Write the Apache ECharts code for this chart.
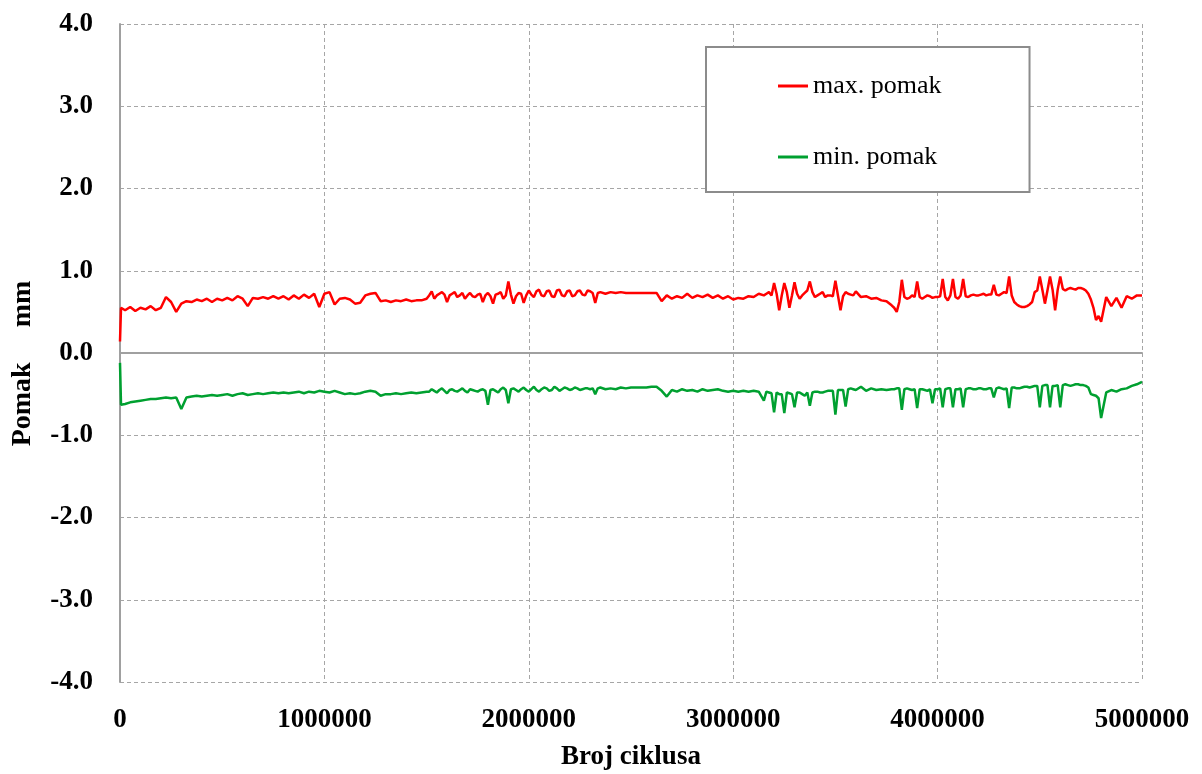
<!DOCTYPE html>
<html>
<head>
<meta charset="utf-8">
<script src="https://cdn.jsdelivr.net/npm/echarts@6/dist/echarts.min.js"></script>
<style>html,body{margin:0;padding:0;background:#fff;}#c{width:1202px;height:774px;}</style>
</head>
<body>
<div id="c"></div>
<script>
// main samples (every 25 000 cycles)
const cycles = [0, 5000,
  25000,50000,75000,100000,125000,150000,175000,200000,225000,250000,
  275000,300000,325000,350000,375000,400000,425000,450000,475000,500000,
  525000,550000,575000,600000,625000,650000,675000,700000,725000,750000,
  775000,800000,825000,850000,875000,900000,925000,950000,975000,1000000,
  1025000,1050000,1075000,1100000,1125000,1150000,1175000,1200000,1225000,1250000,
  1275000,1300000,1325000,1350000,1375000,1400000,1425000,1450000,1475000,1500000,
  1525000,1550000,1575000,1600000,1625000,1650000,1675000,1700000,1725000,1750000,
  1775000,1800000,1825000,1850000,1875000,1900000,1925000,1950000,1975000,2000000,
  2025000,2050000,2075000,2100000,2125000,2150000,2175000,2200000,2225000,2250000,
  2275000,2300000,2325000,2350000,2375000,2400000,2425000,2450000,2475000,2500000,
  2525000,2550000,2575000,2600000,2625000,2650000,2675000,2700000,2725000,2750000,
  2775000,2800000,2825000,2850000,2875000,2900000,2925000,2950000,2975000,3000000,
  3025000,3050000,3075000,3100000,3125000,3150000,3175000,3200000,3225000,3250000,
  3275000,3300000,3325000,3350000,3375000,3400000,3425000,3450000,3475000,3500000,
  3525000,3550000,3575000,3600000,3625000,3650000,3675000,3700000,3725000,3750000,
  3775000,3800000,3825000,3850000,3875000,3900000,3925000,3950000,3975000,4000000,
  4025000,4050000,4075000,4100000,4125000,4150000,4175000,4200000,4225000,4250000,
  4275000,4300000,4325000,4350000,4375000,4400000,4425000,4450000,4475000,4500000,
  4525000,4550000,4575000,4600000,4625000,4650000,4675000,4700000,4725000,4750000,
  4775000,4800000,4825000,4850000,4875000,4900000,4925000,4950000,4975000,5000000
];

const maxPomak = [0.14, 0.55,
  0.52,0.56,0.51,0.55,0.53,0.57,0.52,0.55,0.68,0.62,
  0.50,0.60,0.63,0.62,0.65,0.63,0.66,0.62,0.66,0.64,
  0.67,0.64,0.69,0.66,0.57,0.67,0.66,0.68,0.66,0.69,
  0.66,0.69,0.65,0.70,0.66,0.71,0.67,0.72,0.56,0.72,
  0.74,0.59,0.66,0.67,0.65,0.60,0.61,0.70,0.72,0.73,
  0.63,0.64,0.62,0.64,0.63,0.65,0.63,0.64,0.64,0.66,
  0.75,0.70,0.74,0.62,0.72,0.68,0.73,0.70,0.69,0.71,
  0.62,0.73,0.60,0.72,0.66,0.87,0.60,0.73,0.61,0.76,
  0.68,0.77,0.69,0.76,0.68,0.77,0.69,0.76,0.70,0.76,
  0.70,0.75,0.61,0.74,0.72,0.74,0.73,0.74,0.73,0.73,
  0.73,0.73,0.73,0.73,0.73,0.63,0.70,0.66,0.69,0.67,
  0.72,0.67,0.70,0.68,0.71,0.67,0.70,0.66,0.69,0.65,
  0.67,0.66,0.69,0.68,0.72,0.70,0.74,0.85,0.52,0.85,
  0.55,0.86,0.66,0.73,0.87,0.68,0.72,0.68,0.70,0.88,
  0.52,0.74,0.71,0.75,0.68,0.69,0.66,0.67,0.64,0.63,
  0.58,0.50,0.89,0.66,0.70,0.87,0.66,0.70,0.67,0.68,
  0.90,0.64,0.90,0.66,0.90,0.68,0.71,0.70,0.72,0.71,
  0.83,0.70,0.74,0.93,0.62,0.57,0.56,0.59,0.74,0.93,
  0.60,0.93,0.52,0.93,0.76,0.79,0.77,0.79,0.76,0.65,
  0.40,0.38,0.68,0.57,0.67,0.55,0.69,0.66,0.70,0.70
];

const minPomak = [-0.12, -0.63,
  -0.62,-0.60,-0.59,-0.58,-0.57,-0.56,-0.56,-0.55,-0.54,-0.55,
  -0.54,-0.68,-0.54,-0.53,-0.52,-0.53,-0.52,-0.51,-0.52,-0.51,
  -0.50,-0.52,-0.50,-0.49,-0.51,-0.50,-0.49,-0.50,-0.49,-0.48,
  -0.49,-0.48,-0.49,-0.48,-0.47,-0.49,-0.47,-0.48,-0.46,-0.47,
  -0.48,-0.46,-0.48,-0.50,-0.49,-0.50,-0.49,-0.47,-0.46,-0.47,
  -0.52,-0.50,-0.50,-0.49,-0.50,-0.49,-0.48,-0.49,-0.48,-0.47,
  -0.44,-0.48,-0.43,-0.49,-0.44,-0.47,-0.43,-0.48,-0.45,-0.47,
  -0.44,-0.63,-0.44,-0.48,-0.42,-0.61,-0.43,-0.47,-0.42,-0.47,
  -0.41,-0.47,-0.42,-0.46,-0.41,-0.46,-0.42,-0.45,-0.42,-0.45,
  -0.43,-0.44,-0.50,-0.42,-0.44,-0.43,-0.44,-0.42,-0.43,-0.42,
  -0.42,-0.42,-0.42,-0.41,-0.41,-0.46,-0.53,-0.45,-0.47,-0.44,
  -0.46,-0.45,-0.47,-0.44,-0.46,-0.45,-0.44,-0.46,-0.47,-0.46,
  -0.47,-0.46,-0.47,-0.46,-0.47,-0.58,-0.48,-0.72,-0.50,-0.73,
  -0.49,-0.66,-0.48,-0.52,-0.64,-0.47,-0.48,-0.47,-0.46,-0.75,
  -0.45,-0.65,-0.43,-0.45,-0.41,-0.46,-0.43,-0.45,-0.44,-0.45,
  -0.44,-0.43,-0.69,-0.43,-0.45,-0.67,-0.44,-0.46,-0.61,-0.44,
  -0.66,-0.43,-0.66,-0.44,-0.66,-0.43,-0.44,-0.43,-0.44,-0.43,
  -0.54,-0.42,-0.44,-0.67,-0.42,-0.43,-0.41,-0.42,-0.40,-0.66,
  -0.39,-0.66,-0.40,-0.66,-0.38,-0.40,-0.38,-0.39,-0.40,-0.50,
  -0.52,-0.79,-0.48,-0.45,-0.47,-0.44,-0.43,-0.40,-0.38,-0.35
];

// extra samples read in the noisy stretches (half-way between main samples)
const midCycles = [
  1512500,1537500,1562500,1587500,1612500,1637500,1662500,1687500,1712500,1737500,
  1762500,1787500,1812500,1837500,1862500,1887500,1912500,1937500,1962500,1987500,
  2012500,2037500,2062500,2087500,2112500,2137500,2162500,2187500,2212500,2237500,
  2262500,2287500,2312500,2337500,
  3162500,3187500,3212500,3237500,3262500,3287500,3312500,3337500,3362500,3387500,
  3412500,3437500,3462500,3487500,3512500,3537500,3562500,3587500,
  3787500,3812500,3837500,3862500,3887500,3912500,3937500,3962500,3987500,4012500,
  4037500,4062500,4087500,4112500,4137500,4162500,4187500,4212500,4237500,4262500,
  4287500,4312500,4337500,4362500,4387500,4412500,4437500,4462500,4487500,4512500,
  4537500,4562500,4587500,4612500,4637500,4662500,4687500,4712500,4737500,4762500,
  4787500
];
const maxPomakMid = [
  0.70,0.66,0.72,0.71,0.70,0.74,0.70,0.66,0.73,0.68,
  0.72,0.70,0.69,0.71,0.74,0.70,0.71,0.69,0.72,0.70,
  0.71,0.75,0.70,0.75,0.69,0.76,0.70,0.75,0.69,0.75,
  0.71,0.76,0.73,0.73,
  0.72,0.70,0.72,0.70,0.74,0.70,0.72,0.70,0.76,0.74,
  0.70,0.74,0.70,0.69,0.70,0.69,0.72,0.70,
  0.55,0.62,0.68,0.67,0.68,0.68,0.68,0.69,0.68,0.69,
  0.68,0.70,0.68,0.70,0.69,0.70,0.70,0.71,0.70,0.71,
  0.71,0.72,0.73,0.70,0.59,0.56,0.57,0.62,0.76,0.77,
  0.76,0.77,0.77,0.78,0.78,0.78,0.79,0.78,0.72,0.55,
  0.45
];
const minPomakMid = [
  -0.47,-0.46,-0.45,-0.46,-0.45,-0.46,-0.45,-0.46,-0.44,-0.46,
  -0.45,-0.46,-0.45,-0.46,-0.44,-0.45,-0.44,-0.45,-0.44,-0.45,
  -0.44,-0.45,-0.44,-0.43,-0.45,-0.43,-0.44,-0.43,-0.44,-0.43,
  -0.44,-0.43,-0.43,-0.43,
  -0.47,-0.49,-0.48,-0.50,-0.48,-0.50,-0.48,-0.50,-0.48,-0.48,
  -0.47,-0.48,-0.46,-0.46,-0.45,-0.45,-0.44,-0.44,
  -0.44,-0.43,-0.44,-0.44,-0.44,-0.44,-0.45,-0.44,-0.44,-0.43,
  -0.44,-0.43,-0.44,-0.43,-0.44,-0.43,-0.44,-0.43,-0.44,-0.43,
  -0.43,-0.43,-0.43,-0.42,-0.43,-0.42,-0.41,-0.41,-0.40,-0.40,
  -0.39,-0.40,-0.39,-0.39,-0.39,-0.39,-0.38,-0.39,-0.42,-0.51,
  -0.55
];

const seriesNames = ['max. pomak', 'min. pomak'];
const xTitle = 'Broj ciklusa';
const yTitle = 'Pomak     mm   ';

function merged(xsA, ysA, xsB, ysB) {
  const pts = xsA.map((x, i) => [x, ysA[i]]).concat(xsB.map((x, i) => [x, ysB[i]]));
  pts.sort((a, b) => a[0] - b[0]);
  return pts;
}

const chart = echarts.init(document.getElementById('c'), null, {renderer: 'canvas'});
const serifBold = {fontFamily: 'Liberation Serif', fontWeight: 'bold', fontSize: 27, color: '#000'};

chart.setOption({
  animation: false,
  backgroundColor: '#fff',
  grid: {left: 120, right: 60, top: 24, bottom: 92, containLabel: false, outerBoundsMode: 'none'},
  xAxis: {
    type: 'value', min: 0, max: 5000000, interval: 1000000,
    name: xTitle, nameLocation: 'middle', nameGap: 62,
    nameTextStyle: serifBold,
    axisLine: {show: true, onZero: true, lineStyle: {color: '#a0a0a0', width: 2}},
    axisTick: {show: false},
    axisLabel: Object.assign({margin: 25, formatter: v => String(v)}, serifBold),
    splitLine: {show: true, lineStyle: {color: '#a6a6a6', type: [4, 3], width: 1}}
  },
  yAxis: {
    type: 'value', min: -4, max: 4, interval: 1,
    name: yTitle, nameLocation: 'middle', nameGap: 83, nameRotate: 90,
    nameMoveOverlap: false,
    nameTextStyle: Object.assign({}, serifBold, {fontSize: 28}),
    axisLine: {show: true, lineStyle: {color: '#a0a0a0', width: 2}},
    axisTick: {show: false},
    axisLabel: Object.assign({margin: 27, formatter: v => v.toFixed(1)}, serifBold),
    splitLine: {show: true, lineStyle: {color: '#a6a6a6', type: [4, 3], width: 1}}
  },
  legend: {
    show: true, orient: 'vertical', left: 706, top: 47,
    backgroundColor: '#fff', borderColor: '#8c8c8c', borderWidth: 2,
    padding: [26, 88, 22, 72], itemGap: 45, itemWidth: 30, itemHeight: 3,
    icon: 'rect',
    textStyle: {fontFamily: 'Liberation Serif', fontSize: 26, color: '#000'},
    data: seriesNames
  },
  series: [
    {
      name: seriesNames[0], type: 'line', data: merged(cycles, maxPomak, midCycles, maxPomakMid),
      showSymbol: false, symbol: 'none',
      lineStyle: {color: '#ff0000', width: 2.5}, itemStyle: {color: '#ff0000'}
    },
    {
      name: seriesNames[1], type: 'line', data: merged(cycles, minPomak, midCycles, minPomakMid),
      showSymbol: false, symbol: 'none',
      lineStyle: {color: '#00a030', width: 2.5}, itemStyle: {color: '#00a030'}
    }
  ]
});
</script>
</body>
</html>
